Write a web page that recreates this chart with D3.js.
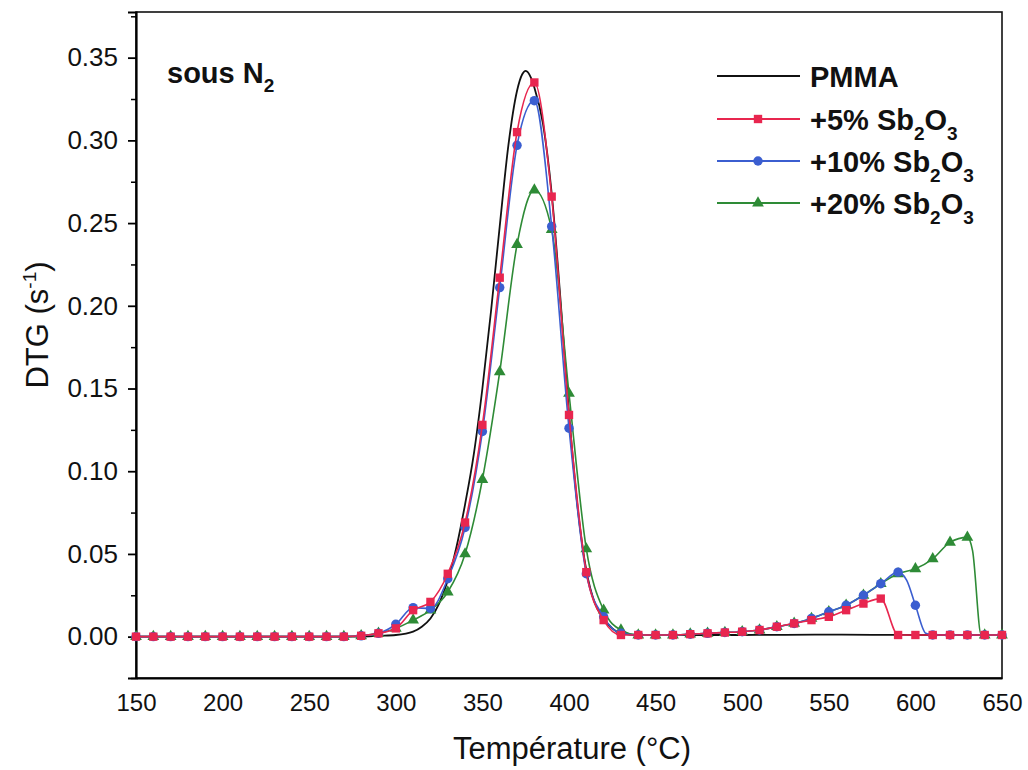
<!DOCTYPE html>
<html>
<head>
<meta charset="utf-8">
<script src="https://cdn.jsdelivr.net/npm/d3@7"></script>
<style>
  body { margin: 0; background: #fff; }
  text { font-family: "Liberation Sans", Arial, sans-serif; }
</style>
</head>
<body>
<div id="chart"></div>
<script>
// DTG curves of PMMA and PMMA + Sb2O3, under N2

// PMMA (no markers)
var pmmaT = [150, 200, 250, 280, 290, 300, 310, 315, 320, 325, 330, 335, 340, 345, 350, 355, 360, 365, 370, 373, 375, 378, 380, 385, 390, 395, 400, 405, 410, 415, 420, 425, 430, 440, 500, 550, 600, 650];
var pmmaV = [0, 0, 0, 0, 0.0005, 0.001, 0.003, 0.006, 0.011, 0.02, 0.034, 0.054, 0.08, 0.11, 0.15, 0.197, 0.248, 0.297, 0.33, 0.340, 0.342, 0.338, 0.332, 0.31, 0.268, 0.205, 0.135, 0.078, 0.04, 0.02, 0.011, 0.005, 0.002, 0.001, 0.001, 0.0012, 0.001, 0.001];

// +5% Sb2O3
var sb5T = [150, 160, 170, 180, 190, 200, 210, 220, 230, 240, 250, 260, 270, 280, 290, 300, 310, 320, 330, 340, 350, 360, 370, 380, 390, 400, 410, 420, 430, 440, 450, 460, 470, 480, 490, 500, 510, 520, 530, 540, 550, 560, 570, 580, 590, 600, 610, 620, 630, 640, 650];
var sb5V = [0, 0, 0, 0, 0, 0, 0, 0, 0, 0, 0, 0, 0, 0.0005, 0.002, 0.005, 0.016, 0.021, 0.038, 0.069, 0.128, 0.217, 0.305, 0.335, 0.266, 0.134, 0.039, 0.010, 0.001, 0.001, 0.001, 0.001, 0.0015, 0.002, 0.0025, 0.003, 0.004, 0.006, 0.008, 0.010, 0.012, 0.016, 0.020, 0.023, 0.001, 0.001, 0.001, 0.001, 0.001, 0.001, 0.001];

// +10% Sb2O3
var sb10T = [150, 160, 170, 180, 190, 200, 210, 220, 230, 240, 250, 260, 270, 280, 290, 300, 310, 320, 330, 340, 350, 360, 370, 380, 390, 400, 410, 420, 430, 440, 450, 460, 470, 480, 490, 500, 510, 520, 530, 540, 550, 560, 570, 580, 590, 595, 600, 606, 610, 620, 630, 640, 650];
var sb10V = [0, 0, 0, 0, 0, 0, 0, 0, 0, 0, 0, 0, 0, 0.0005, 0.002, 0.0075, 0.0175, 0.017, 0.035, 0.066, 0.124, 0.211, 0.297, 0.324, 0.248, 0.126, 0.038, 0.012, 0.002, 0.001, 0.001, 0.001, 0.0015, 0.002, 0.0025, 0.003, 0.004, 0.006, 0.008, 0.011, 0.015, 0.019, 0.025, 0.032, 0.039, 0.034, 0.019, 0.002, 0.001, 0.001, 0.001, 0.001, 0.001];

// +20% Sb2O3
var sb20T = [150, 160, 170, 180, 190, 200, 210, 220, 230, 240, 250, 260, 270, 280, 290, 300, 310, 320, 330, 340, 350, 360, 370, 380, 390, 400, 410, 420, 430, 440, 450, 460, 470, 480, 490, 500, 510, 520, 530, 540, 550, 560, 570, 580, 590, 600, 610, 620, 630, 633, 638, 640, 650];
var sb20V = [0, 0, 0, 0, 0, 0, 0, 0, 0, 0, 0, 0, 0, 0.0005, 0.002, 0.005, 0.010, 0.016, 0.027, 0.050, 0.095, 0.160, 0.237, 0.270, 0.246, 0.147, 0.053, 0.016, 0.004, 0.001, 0.001, 0.001, 0.0015, 0.002, 0.0025, 0.003, 0.004, 0.006, 0.008, 0.011, 0.015, 0.019, 0.025, 0.032, 0.038, 0.041, 0.047, 0.057, 0.060, 0.052, 0.001, 0.001, 0.001];

var xTicks = [150, 200, 250, 300, 350, 400, 450, 500, 550, 600, 650];
var yTicks = [0, 0.05, 0.10, 0.15, 0.20, 0.25, 0.30, 0.35];
var yMinor = [-0.025, 0.025, 0.075, 0.125, 0.175, 0.225, 0.275, 0.325, 0.375];

var series = [
  {name: "PMMA", T: pmmaT, V: pmmaV, color: "#111111", marker: null},
  {name: "+20%", T: sb20T, V: sb20V, color: "#2e8b36", marker: "triangle"},
  {name: "+10%", T: sb10T, V: sb10V, color: "#3b5ed0", marker: "circle"},
  {name: "+5%", T: sb5T, V: sb5V, color: "#e8264f", marker: "square"}
];

var W = 1028, H = 770;
var mLeft = 136, mRight = 1002, mTop = 12, mBottom = 678;

var svg = d3.select("#chart").append("svg")
  .attr("width", W)
  .attr("height", H);

var x = d3.scaleLinear().domain([150, 650]).range([mLeft, mRight]);
var y = d3.scaleLinear().domain([-0.025, 0.3776]).range([mBottom, mTop]);

// frame
svg.append("rect")
  .attr("x", mLeft).attr("y", mTop)
  .attr("width", mRight - mLeft).attr("height", mBottom - mTop)
  .attr("fill", "none").attr("stroke", "#111").attr("stroke-width", 1.6);

// y axis
var yAxis = svg.append("g")
  .attr("transform", "translate(" + mLeft + ",0)")
  .call(d3.axisLeft(y).tickValues(yTicks).tickSize(8).tickPadding(10)
    .tickFormat(d3.format(".2f")));
yAxis.select(".domain").attr("stroke-width", 2.2);
yAxis.selectAll(".tick line").attr("stroke-width", 1.8);
yAxis.selectAll(".tick text").style("font-size", "26px").attr("fill", "#111");

svg.append("g")
  .attr("transform", "translate(" + mLeft + ",0)")
  .call(d3.axisLeft(y).tickValues(yMinor).tickSize(5).tickFormat(""))
  .call(function(g) { g.select(".domain").remove(); })
  .selectAll("line").attr("stroke-width", 1.5);

// x axis (labels only)
var xAxis = svg.append("g")
  .attr("transform", "translate(0," + mBottom + ")")
  .call(d3.axisBottom(x).tickValues(xTicks).tickSize(0).tickPadding(16));
xAxis.select(".domain").attr("stroke-width", 2.2);
xAxis.selectAll(".tick text").style("font-size", "24px").attr("fill", "#111");

// axis titles
svg.append("text")
  .attr("x", 572)
  .attr("y", 759)
  .attr("text-anchor", "middle")
  .style("font-size", "31px")
  .attr("fill", "#111")
  .text("Température (°C)");

var yl = svg.append("text")
  .attr("transform", "translate(48,325) rotate(-90)")
  .attr("text-anchor", "middle")
  .style("font-size", "31px")
  .attr("fill", "#111");
yl.append("tspan").text("DTG (s");
yl.append("tspan").attr("dy", -12).style("font-size", "19px").text("-1");
yl.append("tspan").attr("dy", 12).text(")");

// note
var note = svg.append("text")
  .attr("x", 167).attr("y", 83)
  .style("font-size", "29px").style("font-weight", "bold")
  .attr("fill", "#111");
note.append("tspan").text("sous N");
note.append("tspan").attr("dy", 9).style("font-size", "19px").text("2");

// curves
var line = d3.line()
  .x(function(d) { return x(d[0]); })
  .y(function(d) { return y(d[1]); })
  .curve(d3.curveMonotoneX);

var sym = {
  square: d3.symbol().type(d3.symbolSquare).size(70),
  circle: d3.symbol().type(d3.symbolCircle).size(70),
  triangle: d3.symbol().type(d3.symbolTriangle).size(60)
};

series.forEach(function(s) {
  var pts = s.T.map(function(t, i) { return [t, s.V[i]]; });
  svg.append("path")
    .datum(pts)
    .attr("d", line)
    .attr("fill", "none")
    .attr("stroke", s.color)
    .attr("stroke-width", s.marker ? 1.6 : 1.8);
  if (s.marker) {
    svg.append("g").selectAll("path")
      .data(pts.filter(function(p) { return p[0] % 10 === 0; }))
      .enter().append("path")
      .attr("d", sym[s.marker])
      .attr("transform", function(p) { return "translate(" + x(p[0]) + "," + y(p[1]) + ")"; })
      .attr("fill", s.color);
  }
});

// legend
var legendNames = ["PMMA", "+5% Sb", "+10% Sb", "+20% Sb"];
var legendColors = ["#111111", "#e8264f", "#3b5ed0", "#2e8b36"];
var legendMarkers = [null, "square", "circle", "triangle"];
var legendY = [76, 119, 161, 203];

legendNames.forEach(function(n, i) {
  var g = svg.append("g").attr("transform", "translate(0," + legendY[i] + ")");
  g.append("line")
    .attr("x1", 717).attr("x2", 800)
    .attr("stroke", legendColors[i]).attr("stroke-width", 1.8);
  if (legendMarkers[i]) {
    g.append("path")
      .attr("d", sym[legendMarkers[i]])
      .attr("transform", "translate(758,0)")
      .attr("fill", legendColors[i]);
  }
  var t = g.append("text")
    .attr("x", 810).attr("y", 11)
    .style("font-size", "29px").style("font-weight", "bold")
    .attr("fill", "#111");
  t.append("tspan").text(n);
  if (i > 0) {
    t.append("tspan").attr("dy", 10).style("font-size", "19px").text("2");
    t.append("tspan").attr("dy", -10).text("O");
    t.append("tspan").attr("dy", 10).style("font-size", "19px").text("3");
  }
});
</script>
</body>
</html>
